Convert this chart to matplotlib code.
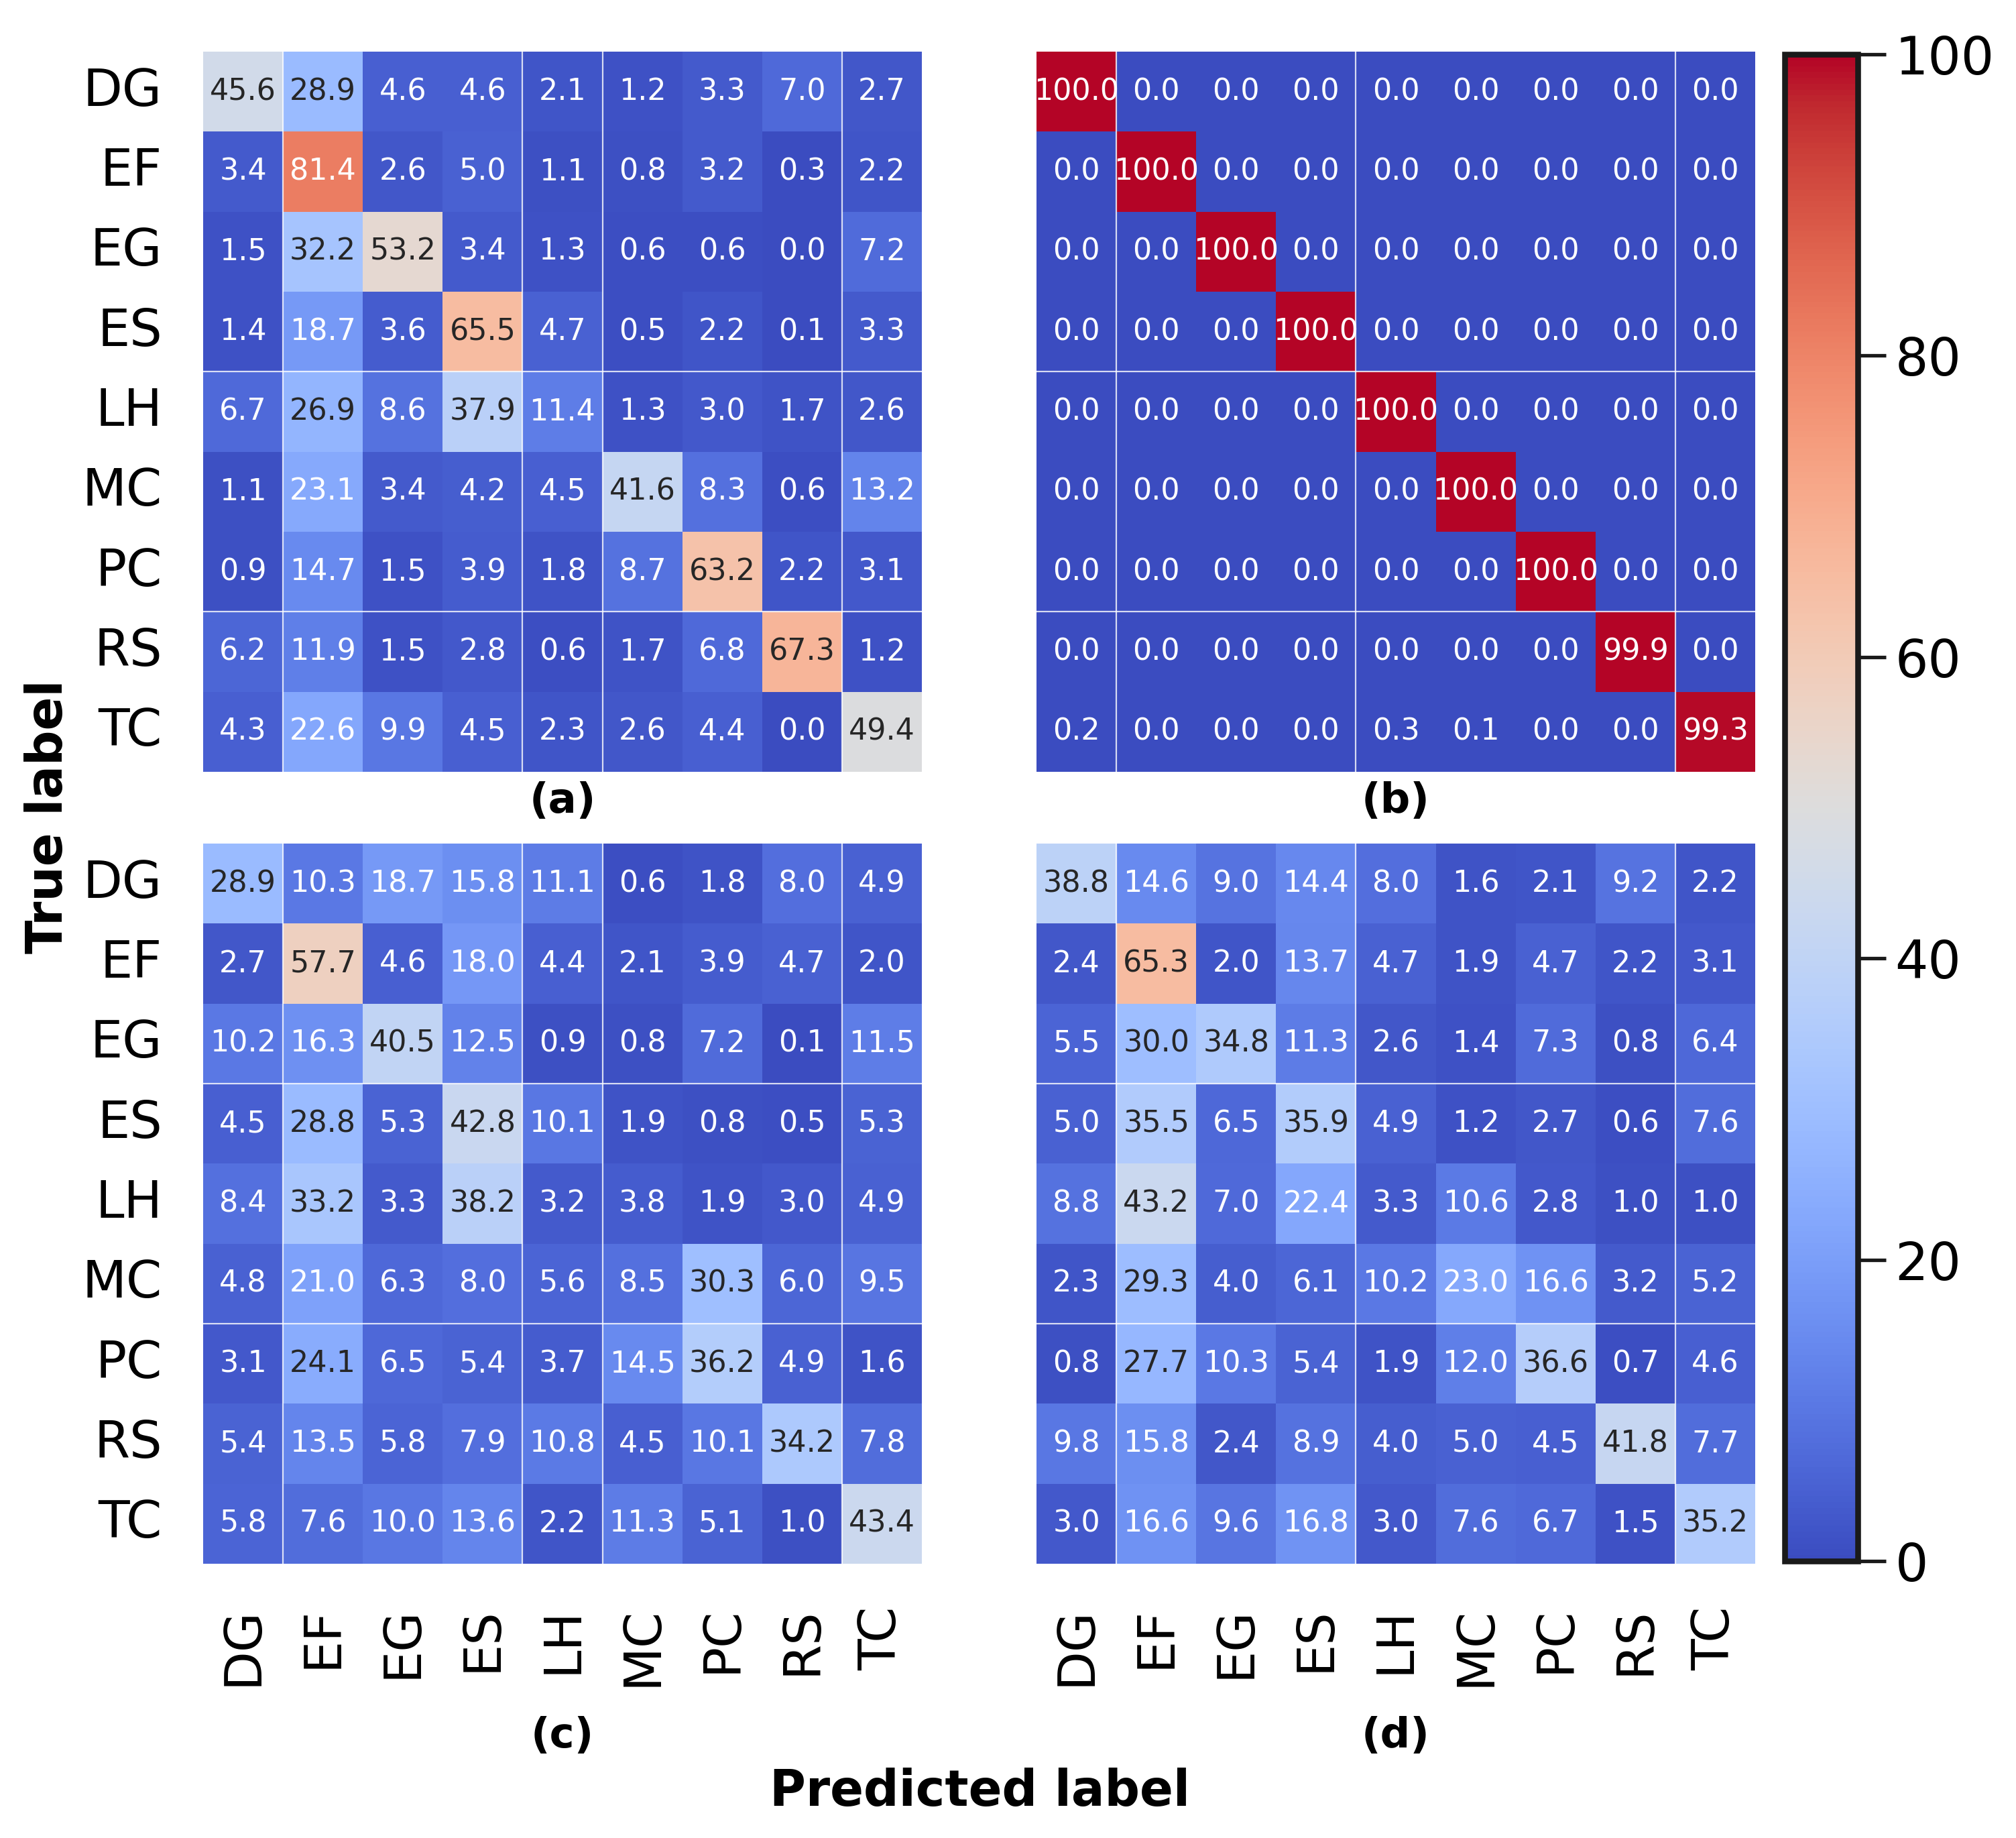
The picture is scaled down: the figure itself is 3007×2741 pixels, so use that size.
import matplotlib
matplotlib.use("Agg")
import matplotlib.pyplot as plt
import numpy as np
import seaborn as sns

classes = ["DG", "EF", "EG", "ES", "LH", "MC", "PC", "RS", "TC"]

cm_a = [
    [45.6, 28.9, 4.6, 4.6, 2.1, 1.2, 3.3, 7.0, 2.7],
    [3.4, 81.4, 2.6, 5.0, 1.1, 0.8, 3.2, 0.3, 2.2],
    [1.5, 32.2, 53.2, 3.4, 1.3, 0.6, 0.6, 0.0, 7.2],
    [1.4, 18.7, 3.6, 65.5, 4.7, 0.5, 2.2, 0.1, 3.3],
    [6.7, 26.9, 8.6, 37.9, 11.4, 1.3, 3.0, 1.7, 2.6],
    [1.1, 23.1, 3.4, 4.2, 4.5, 41.6, 8.3, 0.6, 13.2],
    [0.9, 14.7, 1.5, 3.9, 1.8, 8.7, 63.2, 2.2, 3.1],
    [6.2, 11.9, 1.5, 2.8, 0.6, 1.7, 6.8, 67.3, 1.2],
    [4.3, 22.6, 9.9, 4.5, 2.3, 2.6, 4.4, 0.0, 49.4],
]

cm_b = [
    [100.0, 0.0, 0.0, 0.0, 0.0, 0.0, 0.0, 0.0, 0.0],
    [0.0, 100.0, 0.0, 0.0, 0.0, 0.0, 0.0, 0.0, 0.0],
    [0.0, 0.0, 100.0, 0.0, 0.0, 0.0, 0.0, 0.0, 0.0],
    [0.0, 0.0, 0.0, 100.0, 0.0, 0.0, 0.0, 0.0, 0.0],
    [0.0, 0.0, 0.0, 0.0, 100.0, 0.0, 0.0, 0.0, 0.0],
    [0.0, 0.0, 0.0, 0.0, 0.0, 100.0, 0.0, 0.0, 0.0],
    [0.0, 0.0, 0.0, 0.0, 0.0, 0.0, 100.0, 0.0, 0.0],
    [0.0, 0.0, 0.0, 0.0, 0.0, 0.0, 0.0, 99.9, 0.0],
    [0.2, 0.0, 0.0, 0.0, 0.3, 0.1, 0.0, 0.0, 99.3],
]

cm_c = [
    [28.9, 10.3, 18.7, 15.8, 11.1, 0.6, 1.8, 8.0, 4.9],
    [2.7, 57.7, 4.6, 18.0, 4.4, 2.1, 3.9, 4.7, 2.0],
    [10.2, 16.3, 40.5, 12.5, 0.9, 0.8, 7.2, 0.1, 11.5],
    [4.5, 28.8, 5.3, 42.8, 10.1, 1.9, 0.8, 0.5, 5.3],
    [8.4, 33.2, 3.3, 38.2, 3.2, 3.8, 1.9, 3.0, 4.9],
    [4.8, 21.0, 6.3, 8.0, 5.6, 8.5, 30.3, 6.0, 9.5],
    [3.1, 24.1, 6.5, 5.4, 3.7, 14.5, 36.2, 4.9, 1.6],
    [5.4, 13.5, 5.8, 7.9, 10.8, 4.5, 10.1, 34.2, 7.8],
    [5.8, 7.6, 10.0, 13.6, 2.2, 11.3, 5.1, 1.0, 43.4],
]

cm_d = [
    [38.8, 14.6, 9.0, 14.4, 8.0, 1.6, 2.1, 9.2, 2.2],
    [2.4, 65.3, 2.0, 13.7, 4.7, 1.9, 4.7, 2.2, 3.1],
    [5.5, 30.0, 34.8, 11.3, 2.6, 1.4, 7.3, 0.8, 6.4],
    [5.0, 35.5, 6.5, 35.9, 4.9, 1.2, 2.7, 0.6, 7.6],
    [8.8, 43.2, 7.0, 22.4, 3.3, 10.6, 2.8, 1.0, 1.0],
    [2.3, 29.3, 4.0, 6.1, 10.2, 23.0, 16.6, 3.2, 5.2],
    [0.8, 27.7, 10.3, 5.4, 1.9, 12.0, 36.6, 0.7, 4.6],
    [9.8, 15.8, 2.4, 8.9, 4.0, 5.0, 4.5, 41.8, 7.7],
    [3.0, 16.6, 9.6, 16.8, 3.0, 7.6, 6.7, 1.5, 35.2],
]

W, H = 3007, 2741


def box(x0, y0, x1, y1):
    # pixel box (top-left origin) -> figure fraction rect
    return [x0 / W, 1 - y1 / H, (x1 - x0) / W, (y1 - y0) / H]


fig = plt.figure(figsize=(W / 100, H / 100), dpi=100)

panels = [
    (cm_a, box(303, 77, 1375, 1151), "(a)", True, False, -0.041, [1, 4, 5, 8], [4, 7]),
    (cm_b, box(1546, 77, 2618, 1151), "(b)", False, False, -0.041, [1, 4, 8], [4, 7]),
    (cm_c, box(303, 1258, 1375, 2332), "(c)", True, True, -0.239, [1, 4, 5, 8], [3, 6]),
    (cm_d, box(1546, 1258, 2618, 2332), "(d)", False, True, -0.239, [1, 4, 8], [3, 6]),
]

for cm, rect, tag, show_y, show_x, tag_y, vlines, hlines in panels:
    ax = fig.add_axes(rect)
    sns.heatmap(np.array(cm), ax=ax, cmap="coolwarm", vmin=0, vmax=100,
                annot=True, fmt=".1f", annot_kws={"size": 32},
                cbar=False, square=False,
                xticklabels=classes if show_x else False,
                yticklabels=classes if show_y else False)
    ax.tick_params(axis="both", length=0, labelsize=55)
    ax.tick_params(axis="y", pad=44)
    ax.tick_params(axis="x", pad=46)
    if show_y:
        plt.setp(ax.get_yticklabels(), rotation=0)
    if show_x:
        plt.setp(ax.get_xticklabels(), rotation=90)
    for v in vlines:
        ax.axvline(v, color="white", lw=1.6, alpha=0.8)
    for h in hlines:
        ax.axhline(h, color="white", lw=1.6, alpha=0.8)
    ax.text(0.5, tag_y, tag, transform=ax.transAxes, ha="center", va="center",
            fontsize=45, fontweight="bold")

cax = fig.add_axes(box(2662, 81, 2771, 2328))
sm = plt.cm.ScalarMappable(cmap="coolwarm", norm=plt.Normalize(0, 100))
cb = fig.colorbar(sm, cax=cax, ticks=[0, 20, 40, 60, 80, 100])
cb.outline.set_linewidth(6.2)
cb.outline.set_edgecolor("#1a1a1a")
cax.tick_params(length=30, width=3.8, labelsize=56, pad=10, color="#1a1a1a")

fig.text(1461 / W, 1 - 2672 / H, "Predicted label", ha="center", va="center",
         fontsize=53, fontweight="bold")
fig.text(73 / W, 1 - 1218 / H, "True label", ha="center", va="center",
         rotation=90, fontsize=53, fontweight="bold")

fig.savefig("out.png", dpi=100)
